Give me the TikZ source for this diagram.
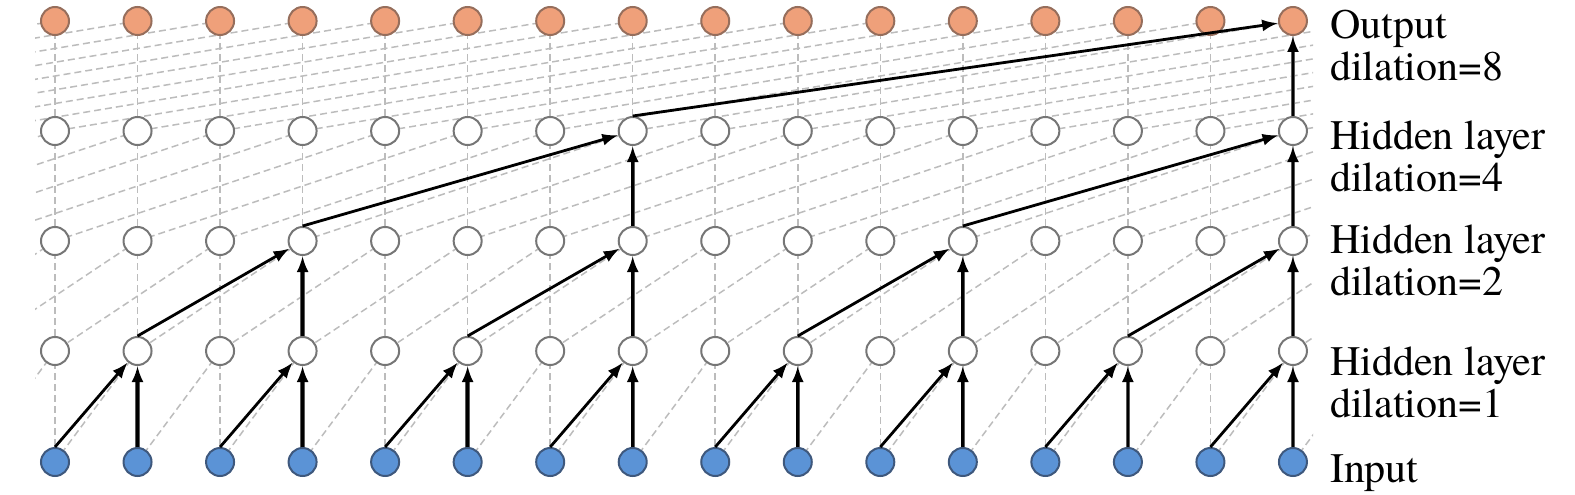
\documentclass[tikz,border=0pt]{standalone}
\usepackage{fontspec}
\setmainfont{TeX Gyre Termes}
\usetikzlibrary{arrows.meta}
\definecolor{outfill}{RGB}{239,160,122}
\definecolor{outdraw}{RGB}{150,110,92}
\definecolor{infill}{RGB}{91,147,214}
\definecolor{indraw}{RGB}{62,88,125}
\definecolor{hiddraw}{RGB}{118,118,118}
\definecolor{gridgray}{RGB}{188,188,188}
\definecolor{vgray}{RGB}{90,90,90}
\tikzset{
  unit/.style={circle,minimum size=28pt,inner sep=0pt,line width=2pt},
  inp/.style={unit,draw=indraw,fill=infill},
  hid/.style={unit,draw=hiddraw,fill=white},
  outp/.style={unit,draw=outdraw,fill=outfill},
  gridline/.style={draw=gridgray,line width=1.5pt,dash pattern=on 7pt off 4pt},
  arrd/.style={draw=black,line width=2.8pt,-{Latex[length=16pt,width=12pt]}},
  vback/.style={draw=vgray,line width=4.4pt,shorten >=14pt},
  lbl/.style={anchor=base west,inner sep=0pt,font=\fontsize{42}{42}\selectfont}
}
\begin{document}
\begin{tikzpicture}[x=1pt,y=-1pt]
\useasboundingbox (0,0) rectangle (1575,495);
% grid positions (virtual columns k=0..31, real columns k=8..23)
\foreach \r/\y in {0/462,1/351,2/241,3/131,4/21}
  \foreach \k in {0,...,31}
    \coordinate (g\r-\k) at ({55+82.53*(\k-8)},\y);
% background dashed connections
\begin{scope}
\clip (35,0) rectangle (1313,495);
\foreach \r/\d in {1/1,2/2,3/4,4/8} {
  \pgfmathtruncatemacro\rb{\r-1}
  \foreach \k in {0,...,31} {
    \draw[gridline] (g\r-\k) -- (g\rb-\k);
    \pgfmathtruncatemacro\kb{\k-\d}
    \ifnum\kb>-1 \draw[gridline] (g\r-\k) -- (g\rb-\kb);\fi
  }
}
\end{scope}
% nodes
\foreach \k in {8,...,23} {
  \pgfmathtruncatemacro\c{\k-8}
  \node[inp]  (n0-\c) at (g0-\k) {};
  \node[hid]  (n1-\c) at (g1-\k) {};
  \node[hid]  (n2-\c) at (g2-\k) {};
  \node[hid]  (n3-\c) at (g3-\k) {};
  \node[outp] (n4-\c) at (g4-\k) {};
}
% receptive-field arrows
\foreach \r/\d/\list in {1/1/{1,3,5,7,9,11,13,15},2/2/{3,7,11,15},3/4/{7,15},4/8/{15}} {
  \pgfmathtruncatemacro\rb{\r-1}
  \foreach \c in \list {
    \pgfmathtruncatemacro\cb{\c-\d}
    \draw[arrd] (n\rb-\cb.north) -- (n\r-\c);
    \draw[vback] (n\rb-\c) -- (n\r-\c);
    \draw[arrd] (n\rb-\c) -- (n\r-\c);
  }
}
% labels
\node[lbl] (lout) at (1330,39) {\begin{tabular}[t]{@{}l@{}}Output\\dilation=8\end{tabular}};
\node[lbl] (lh3) at (1330,149) {\begin{tabular}[t]{@{}l@{}}Hidden layer\\dilation=4\end{tabular}};
\node[lbl] (lh2) at (1330,253) {\begin{tabular}[t]{@{}l@{}}Hidden layer\\dilation=2\end{tabular}};
\node[lbl] (lh1) at (1330,375) {\begin{tabular}[t]{@{}l@{}}Hidden layer\\dilation=1\end{tabular}};
\node[lbl] (lin) at (1330,482) {Input};
\end{tikzpicture}
\end{document}
